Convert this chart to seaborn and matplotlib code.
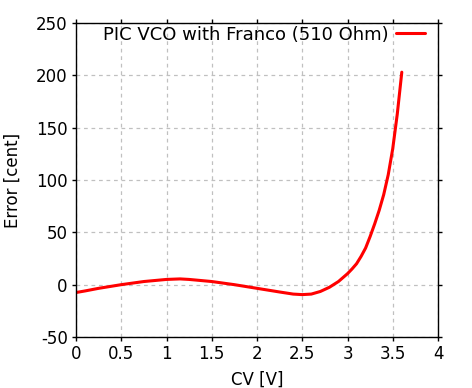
import matplotlib
matplotlib.use("Agg")
import matplotlib.pyplot as plt
import seaborn as sns
import pandas as pd

cv = [0.0, 0.1, 0.25, 0.5, 0.75, 1.0, 1.15, 1.25, 1.5, 1.75, 2.0, 2.25, 2.4, 2.5, 2.6, 2.7, 2.8, 2.9,
      3.0, 3.05, 3.1, 3.15, 3.2, 3.25, 3.3, 3.35, 3.4, 3.45, 3.5, 3.55, 3.6]
err = [-7.5, -6, -3.5, 0, 3, 5, 5.5, 5, 3, 0, -3.5, -7, -9, -9.5, -9, -6.5, -2.5, 3,
       10.5, 15, 20, 27, 35, 46, 58, 71, 86, 105, 130, 163, 203]
series_label = "PIC VCO with Franco (510 Ohm)"
xticks = [0, 0.5, 1, 1.5, 2, 2.5, 3, 3.5, 4]
xticklabels = ["0", "0.5", "1", "1.5", "2", "2.5", "3", "3.5", "4"]
yticks = [-50, 0, 50, 100, 150, 200, 250]
yticklabels = ["-50", "0", "50", "100", "150", "200", "250"]

df = pd.DataFrame({"CV": cv, "Error": err})

sns.set_style("white")
plt.rcParams['font.family'] = ['DejaVu Sans']
plt.rcParams['text.color'] = 'black'
plt.rcParams['axes.labelcolor'] = 'black'
plt.rcParams['xtick.color'] = 'black'
plt.rcParams['ytick.color'] = 'black'

fig = plt.figure(figsize=(4.72, 3.88), dpi=100)
ax = fig.add_axes([76/472, 1-337/388, 362/472, 314/388])

sns.lineplot(data=df, x="CV", y="Error", ax=ax, color="#ff0000", linewidth=2.2,
             label=series_label)

ax.set_xlim(0, 4)
ax.set_ylim(-50, 250)
ax.set_xticks(xticks)
ax.set_xticklabels(xticklabels)
ax.set_yticks(yticks)
ax.set_yticklabels(yticklabels)
ax.grid(True, color="#c0c0c0", linestyle=(0, (3, 3)), linewidth=0.9)
ax.tick_params(direction="out", length=3, width=1, labelsize=12, colors="black",
               top=True, right=True, bottom=True, left=True, pad=3)
for s in ax.spines.values():
    s.set_color("black")
    s.set_linewidth(1)
ax.set_xlabel("CV [V]", fontsize=12, labelpad=5, color="black")
ax.set_ylabel("Error [cent]", fontsize=12, labelpad=10, color="black")
leg = ax.legend(loc="upper right", frameon=False, fontsize=13, markerfirst=False,
                handlelength=1.6, handletextpad=0.45, borderaxespad=0.1,
                bbox_to_anchor=(0.99, 1.02))
for t in leg.get_texts():
    t.set_color("black")
fig.savefig("out.png", dpi=100)
